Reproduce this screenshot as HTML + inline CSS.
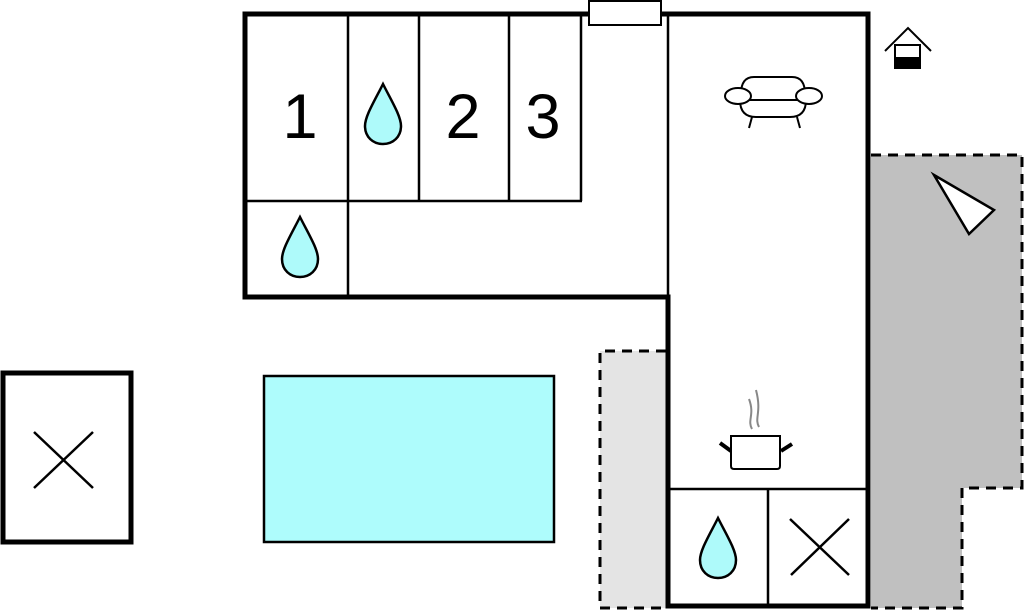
<!DOCTYPE html>
<html><head><meta charset="utf-8"><style>html,body{margin:0;padding:0;background:#fff}svg{display:block}</style></head>
<body>
<svg width="1024" height="612" viewBox="0 0 1024 612" xmlns="http://www.w3.org/2000/svg">
<defs>
<path id="drop" d="M0,-30 C8,-14 18,2 18,12 C18,23 10,30 0,30 C-10,30 -18,23 -18,12 C-18,2 -8,-14 0,-30 Z" fill="#aefafa" stroke="#000" stroke-width="2.5"/>
</defs>
<!-- gray terraces -->
<path d="M871,155 H1022 V488 H962 V608 H871 Z" fill="#c0c0c0"/>
<path d="M871,155 H1022 V488 H962 V608 H871" fill="none" stroke="#000" stroke-width="3" stroke-dasharray="10,7"/>
<rect x="600" y="351" width="66" height="257" fill="#e4e4e4"/>
<path d="M666,351 H600 V608 H666" fill="none" stroke="#000" stroke-width="3" stroke-dasharray="10,7"/>
<!-- interior thin lines -->
<g stroke="#000" stroke-width="2.5" fill="none">
<line x1="348" y1="14" x2="348" y2="297"/>
<line x1="245" y1="201" x2="582" y2="201"/>
<line x1="419" y1="14" x2="419" y2="201"/>
<line x1="509" y1="14" x2="509" y2="201"/>
<line x1="581" y1="14" x2="581" y2="201"/>
<line x1="668" y1="14" x2="668" y2="297"/>
<line x1="668" y1="489" x2="869" y2="489"/>
<line x1="768" y1="489" x2="768" y2="608"/>
</g>
<!-- outer walls -->
<path d="M245,14 H868 V606 H668 V297 H245 Z" fill="none" stroke="#000" stroke-width="5"/>
<rect x="589" y="1" width="72" height="24" fill="#fff" stroke="#000" stroke-width="2"/>
<!-- numbers -->
<g font-family="Liberation Sans, sans-serif" font-size="63" text-anchor="middle">
<text x="300" y="138">1</text>
<text x="463" y="138">2</text>
<text x="543" y="138">3</text>
</g>
<use href="#drop" x="383" y="114"/>
<use href="#drop" x="300" y="247"/>
<use href="#drop" x="718" y="548"/>
<!-- X boxes -->
<g stroke="#000" stroke-width="2.5">
<line x1="790" y1="519" x2="849" y2="575"/><line x1="849" y1="519" x2="791" y2="575"/>
</g>
<rect x="3" y="373" width="128" height="169" fill="none" stroke="#000" stroke-width="5"/>
<g stroke="#000" stroke-width="2.5">
<line x1="34" y1="432" x2="93" y2="488"/><line x1="93" y1="432" x2="34" y2="488"/>
</g>
<!-- pool -->
<rect x="264" y="376" width="290" height="166" fill="#aefcfc" stroke="#000" stroke-width="2.5"/>
<!-- house icon -->
<g stroke="#000" stroke-width="2" fill="none">
<polyline points="885,51 908,28 931,51"/>
<rect x="895" y="45" width="25" height="23" fill="#fff"/>
<rect x="895" y="58" width="25" height="10" fill="#000"/>
</g>
<!-- triangle -->
<polygon points="934,175 994,210 969,234" fill="#fff" stroke="#000" stroke-width="2.5"/>
<!-- sofa -->
<g stroke="#000" stroke-width="2" fill="#fff">
<path d="M741,94 Q741,77 754,77 H792 Q805,77 805,94"/>
<path d="M740,100 Q740,117 756,117 H790 Q806,117 806,100 Z"/>
<ellipse cx="738" cy="96" rx="13" ry="8"/>
<ellipse cx="809" cy="96" rx="13" ry="8"/>
<line x1="752" y1="117" x2="749" y2="128"/><line x1="797" y1="117" x2="800" y2="128"/>
</g>
<!-- pot -->
<g>
<path d="M752,429 C747,420 755,415 749,399 M759,427 C754,418 762,413 756,390" stroke="#888" stroke-width="2" fill="none"/>
<line x1="720" y1="443" x2="731" y2="451" stroke="#000" stroke-width="4"/>
<line x1="792" y1="444" x2="781" y2="451" stroke="#000" stroke-width="4"/>
<path d="M731,436 H780 V466 Q780,469 777,469 H734 Q731,469 731,466 Z" fill="#fff" stroke="#000" stroke-width="2"/>
</g>
</svg>
</body></html>
